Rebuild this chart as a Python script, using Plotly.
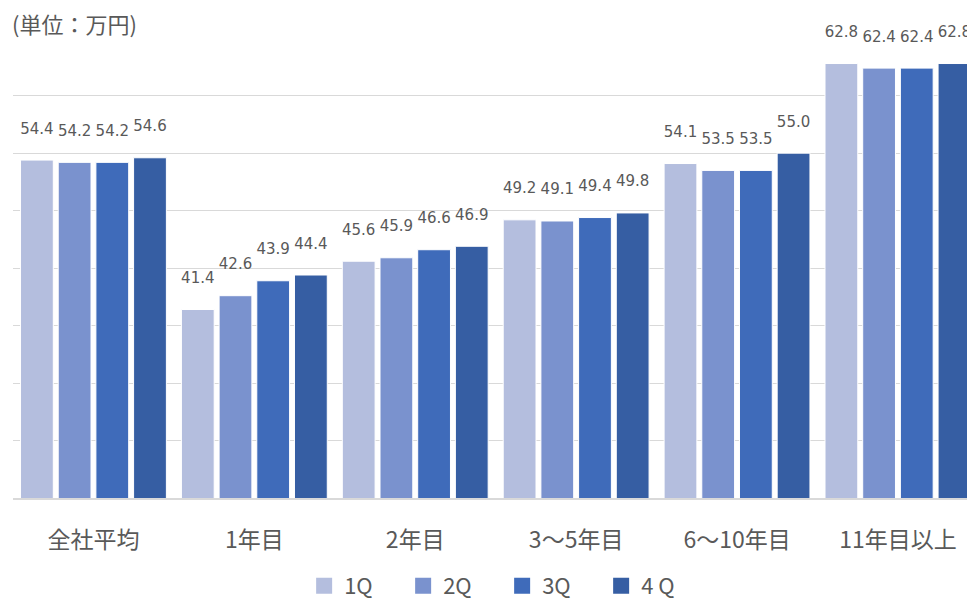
import plotly.graph_objects as go

categories = ["全社平均", "1年目", "2年目", "3～5年目", "6～10年目", "11年目以上"]
series_names = ["1Q", "2Q", "3Q", "4 Q"]
q1 = [54.4, 41.4, 45.6, 49.2, 54.1, 62.8]
q2 = [54.2, 42.6, 45.9, 49.1, 53.5, 62.4]
q3 = [54.2, 43.9, 46.6, 49.4, 53.5, 62.4]
q4 = [54.6, 44.4, 46.9, 49.8, 55.0, 62.8]
colors = ["#B4BEDE", "#7A92CE", "#3F6BBA", "#365EA3"]

FONT = "Noto Sans CJK JP, DejaVu Sans, sans-serif"
NUMFONT = "DejaVu Sans, Verdana, sans-serif"
GREY = "#595959"

# page body has an 8px margin, so the figure is sized to fit the window
W, H = 967, 593

fig = go.Figure()
for name, vals, col in zip(series_names, [q1, q2, q3, q4], colors):
    fig.add_trace(go.Bar(
        x=categories, y=vals, name=name, showlegend=False,
        marker=dict(color=col, line=dict(color="white", width=1)),
        text=[f"{v:.1f}<br>\u00a0" for v in vals],
        textposition="outside",
        textfont=dict(size=15, color=GREY, family=NUMFONT),
        constraintext="none",
        cliponaxis=False,
    ))
# legend entries with square markers
for name, col in zip(series_names, colors):
    fig.add_trace(go.Scatter(
        x=[None], y=[None], mode="markers", name=name,
        marker=dict(symbol="square", size=16, color=col),
        showlegend=True,
    ))

fig.update_layout(
    width=W, height=H,
    margin=dict(l=5, r=0, t=30, b=103, autoexpand=False),
    plot_bgcolor="white", paper_bgcolor="white",
    barmode="group", bargap=0.063, bargroupgap=0.13,
    font=dict(family=FONT, color=GREY, size=18),
    title=dict(text="(単位：万円)", x=4 / W, xanchor="left", xref="container",
               y=1 - 17 / H, yanchor="middle",
               font=dict(size=22, color=GREY, family=FONT)),
    legend=dict(orientation="h", x=0.511, xanchor="center", xref="container",
                y=1 - 578 / H, yanchor="middle", yref="container",
                font=dict(size=22, color=GREY, family=FONT),
                entrywidth=54, entrywidthmode="pixels"),
    yaxis=dict(range=[25, 65.02], dtick=5, showticklabels=False, showgrid=True,
               gridcolor="#D9D9D9", gridwidth=1.3, zeroline=False, showline=False,
               automargin=False),
    xaxis=dict(range=[-0.5, 5.479], showline=True, linecolor="#D9D9D9", linewidth=1.5,
               ticks="", automargin=False,
               tickfont=dict(size=23, color=GREY, family=FONT), ticklabelstandoff=21),
)

fig.write_html("out.html")
